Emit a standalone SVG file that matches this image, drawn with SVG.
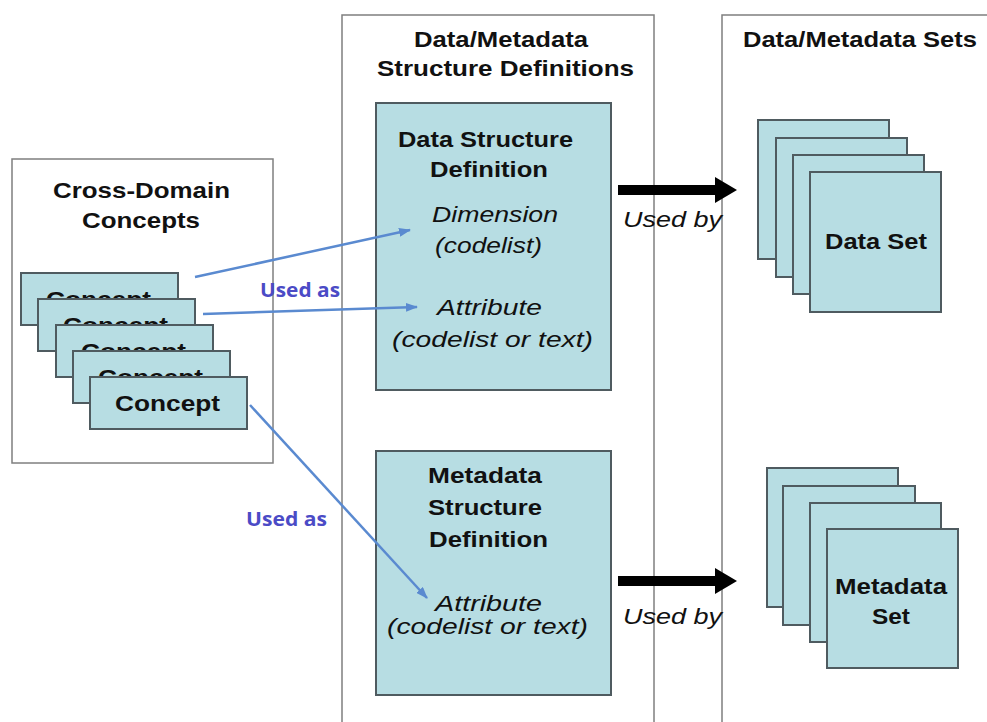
<svg xmlns="http://www.w3.org/2000/svg" width="987" height="722" viewBox="0 0 987 722">
<style>
.container{fill:#ffffff;stroke:#7f7f7f;stroke-width:1.5}
.box{fill:#b7dde3;stroke:#4f5b60;stroke-width:2}
.t{font-family:"Liberation Sans",Arial,sans-serif;font-size:22px;fill:#111}
.b{font-weight:bold}
.i{font-style:italic}
.usedas{font-family:"Open Sans","Liberation Sans",sans-serif;font-weight:bold;font-size:19px;fill:#4b4bc6}
.blue{stroke:#5a8ad0;stroke-width:2.5;fill:none}
</style>
<defs>
<marker id="bh" markerUnits="userSpaceOnUse" markerWidth="12" markerHeight="9" refX="11" refY="4.5" orient="auto">
<path d="M0,0 L12,4.5 L0,9 z" fill="#5a8ad0"/>
</marker>
</defs>
<rect width="987" height="722" fill="#ffffff"/>

<g id="cross-domain">
<rect class="container" x="12" y="159" width="261" height="304"/>
<text class="t b" x="53" y="198" textLength="177" lengthAdjust="spacingAndGlyphs">Cross-Domain</text>
<text class="t b" x="82" y="228" textLength="118" lengthAdjust="spacingAndGlyphs">Concepts</text>
</g>

<g id="concepts">
<rect class="box" x="21" y="273" width="157" height="52"/>
<text class="t b" x="46" y="307" textLength="105" lengthAdjust="spacingAndGlyphs">Concept</text>
<rect class="box" x="38" y="299" width="157" height="52"/>
<text class="t b" x="63" y="333" textLength="105" lengthAdjust="spacingAndGlyphs">Concept</text>
<rect class="box" x="56" y="325" width="157" height="52"/>
<text class="t b" x="81" y="359" textLength="105" lengthAdjust="spacingAndGlyphs">Concept</text>
<rect class="box" x="73" y="351" width="157" height="52"/>
<text class="t b" x="98" y="385" textLength="105" lengthAdjust="spacingAndGlyphs">Concept</text>
<rect class="box" x="90" y="377" width="157" height="52"/>
<text class="t b" x="115" y="411" textLength="105" lengthAdjust="spacingAndGlyphs">Concept</text>
</g>

<g id="structure-definitions">
<rect class="container" x="342" y="15" width="312" height="720"/>
<text class="t b" x="414" y="47" textLength="174" lengthAdjust="spacingAndGlyphs">Data/Metadata</text>
<text class="t b" x="377" y="76" textLength="257" lengthAdjust="spacingAndGlyphs">Structure Definitions</text>
</g>

<g id="dsd">
<rect class="box" x="376" y="103" width="235" height="287"/>
<text class="t b" x="398" y="147" textLength="175" lengthAdjust="spacingAndGlyphs">Data Structure</text>
<text class="t b" x="430" y="177" textLength="118" lengthAdjust="spacingAndGlyphs">Definition</text>
<text class="t i" x="432" y="222" textLength="126" lengthAdjust="spacingAndGlyphs">Dimension</text>
<text class="t i" x="435" y="253" textLength="107" lengthAdjust="spacingAndGlyphs">(codelist)</text>
<text class="t i" x="437" y="315" textLength="105" lengthAdjust="spacingAndGlyphs">Attribute</text>
<text class="t i" x="392" y="347" textLength="201" lengthAdjust="spacingAndGlyphs">(codelist or text)</text>
</g>

<g id="msd">
<rect class="box" x="376" y="451" width="235" height="244"/>
<text class="t b" x="428" y="483" textLength="114" lengthAdjust="spacingAndGlyphs">Metadata</text>
<text class="t b" x="428" y="515" textLength="114" lengthAdjust="spacingAndGlyphs">Structure</text>
<text class="t b" x="429" y="547" textLength="119" lengthAdjust="spacingAndGlyphs">Definition</text>
<text class="t i" x="435" y="611" textLength="107" lengthAdjust="spacingAndGlyphs">Attribute</text>
<text class="t i" x="387" y="634" textLength="201" lengthAdjust="spacingAndGlyphs">(codelist or text)</text>
</g>

<g id="sets">
<rect class="container" x="722" y="15" width="300" height="720"/>
<text class="t b" x="743" y="47" textLength="234" lengthAdjust="spacingAndGlyphs">Data/Metadata Sets</text>
</g>

<g id="data-set">
<rect class="box" x="758" y="120" width="131" height="139"/>
<rect class="box" x="776" y="138" width="131" height="139"/>
<rect class="box" x="793" y="155" width="131" height="139"/>
<rect class="box" x="810" y="172" width="131" height="140"/>
<text class="t b" x="825" y="249" textLength="102" lengthAdjust="spacingAndGlyphs">Data Set</text>
</g>

<g id="metadata-set">
<rect class="box" x="767" y="468" width="131" height="139"/>
<rect class="box" x="783" y="486" width="132" height="139"/>
<rect class="box" x="810" y="503" width="131" height="139"/>
<rect class="box" x="827" y="529" width="131" height="139"/>
<text class="t b" x="835" y="594" textLength="112" lengthAdjust="spacingAndGlyphs">Metadata</text>
<text class="t b" x="872" y="624" textLength="38" lengthAdjust="spacingAndGlyphs">Set</text>
</g>

<g id="connectors">
<line class="blue" x1="195" y1="277" x2="410" y2="230" marker-end="url(#bh)"/>
<line class="blue" x1="203" y1="314" x2="417" y2="307" marker-end="url(#bh)"/>
<line class="blue" x1="250" y1="405" x2="427" y2="598" marker-end="url(#bh)"/>
<text class="usedas" x="260" y="297" textLength="80" lengthAdjust="spacingAndGlyphs">Used as</text>
<text class="usedas" x="246" y="526" textLength="81" lengthAdjust="spacingAndGlyphs">Used as</text>
<rect x="618" y="185" width="98" height="10" fill="#000"/>
<polygon points="715,177 737,190 715,203" fill="#000"/>
<rect x="618" y="576" width="98" height="10" fill="#000"/>
<polygon points="715,568 737,581 715,594" fill="#000"/>
<text class="t i" x="623" y="227" textLength="99" lengthAdjust="spacingAndGlyphs">Used by</text>
<text class="t i" x="623" y="624" textLength="99" lengthAdjust="spacingAndGlyphs">Used by</text>
</g>
</svg>
